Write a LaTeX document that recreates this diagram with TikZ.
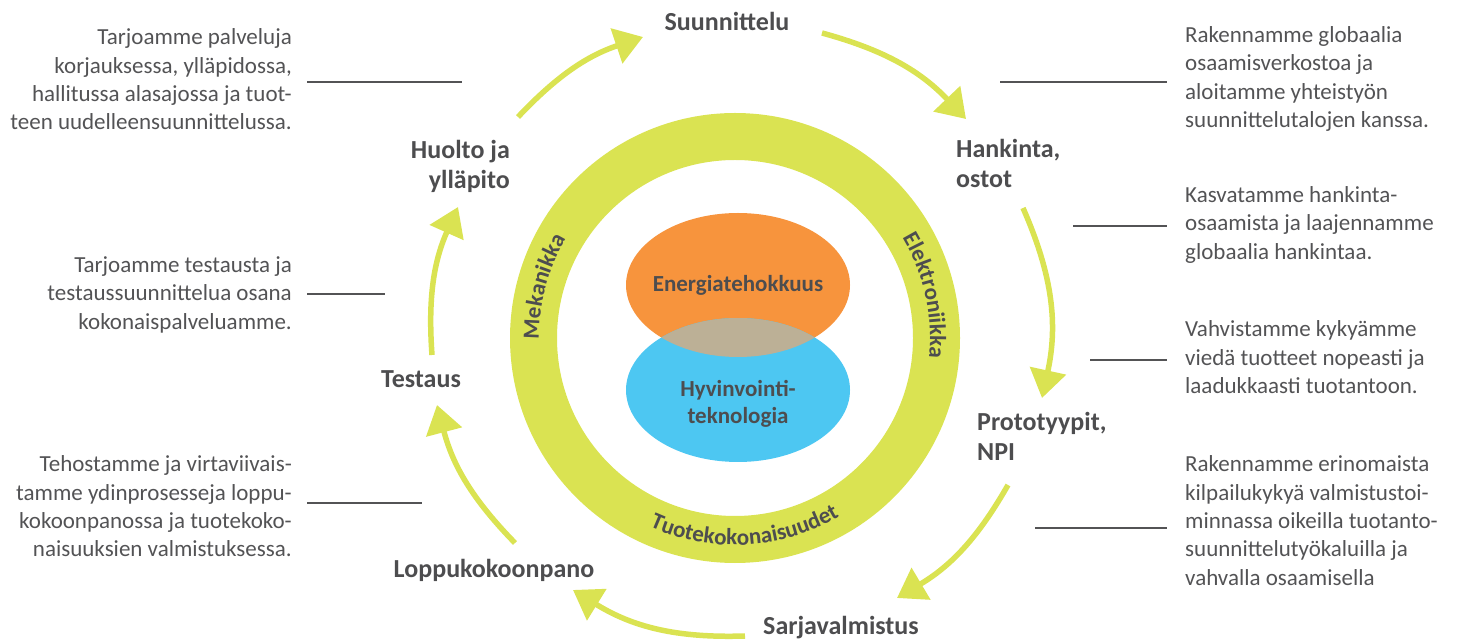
\documentclass[tikz,border=0pt]{standalone}
\usepackage{fontspec}
\setmainfont{Carlito}
\usepackage{tikz}
\usetikzlibrary{shapes.geometric, arrows.meta, decorations.text}
\usepackage{xcolor}
\definecolor{cycleGreen}{RGB}{218, 227, 82}
\definecolor{energyOrange}{RGB}{247, 148, 61}
\definecolor{wellBlue}{RGB}{77, 199, 242}
\definecolor{overlapTan}{RGB}{188, 176, 150}
\definecolor{textGrey}{RGB}{77, 77, 79}
\definecolor{blurbGrey}{RGB}{83, 83, 85}
\newcommand{\ringfont}{\fontsize{23}{23}\selectfont\bfseries\color{textGrey}}

\begin{document}
\begin{tikzpicture}
    [
		x=1pt, y=1pt,
		stage/.style={
			font=\fontsize{26}{29.5}\selectfont\bfseries, text=textGrey, inner sep=0
		},
		core/.style={
			font=\fontsize{23}{27}\selectfont\bfseries, text=textGrey, inner sep=0
		},
		blurb/.style={
			font=\fontsize{23}{28.3}\selectfont, text=blurbGrey, inner sep=0
		},
		leader/.style={draw=blurbGrey, line width=1.8pt},
		flow/.style={
			draw=cycleGreen, line width=5.5pt,
			-{Triangle[length=28pt, width=36pt]}
		},
		blob/.style={
			ellipse, minimum width=224pt, minimum height=144pt, inner sep=0
		},
		ringtext/.style={
			decorate, decoration={text along path, text align=center,
			text={|\ringfont|#1}}
		}
	]

\useasboundingbox (0,0) rectangle (1459,640);

% Ring
\coordinate (hub) at (735,302);
\draw [cycleGreen, line width=47pt] (hub) circle [radius=201.5];

\path [ringtext=Mekanikka]
	([shift={(200:196)}]hub) arc [start angle=200, end angle=130, radius=196];
\path [ringtext=Elektroniikka]
	([shift={(50:195)}]hub) arc [start angle=50, end angle=-25, radius=195];
\path [ringtext=Tuotekokonaisuudet]
	([shift={(-135:207)}]hub) arc [start angle=-135, end angle=-39, radius=207];

% Core
\node (energy) [blob, fill=energyOrange] at (738,355) {};
\node (wellbeing) [blob, fill=wellBlue] at (738,250) {};
\begin{scope}
	\clip (energy.center) ellipse [x radius=112, y radius=72];
	\fill [overlapTan] (wellbeing.center) ellipse [x radius=112, y radius=72];
\end{scope}
\node (energyText) [core, anchor=base] at (738,348) {Energiatehokkuus};
\node (wellText) [core, align=center] at (738,236) {Hyvinvointi-\\teknologia};

% Stages
\node (plan) [stage, anchor=base] at (727,609) {Suunnittelu};
\node (buy) [stage, align=left, anchor=west] at (956,476.5) {Hankinta,\\ostot};
\node (proto) [stage, align=left, anchor=west] at (977,203.5) {Prototyypit,\\NPI};
\node (serial) [stage, anchor=base] at (841,6) {Sarjavalmistus};
\node (assembly) [stage, anchor=base] at (494,63) {Loppukokoonpano};
\node (test) [stage, anchor=base] at (421,252) {Testaus};
\node (service) [stage, align=right, anchor=east] at (510,473.5) {Huolto ja\\ylläpito};

% Cycle arrows
\coordinate (f1s) at (822,607); \coordinate (f1e) at (966,521);
\coordinate (f2s) at (1023,432); \coordinate (f2e) at (1042,242);
\coordinate (f3s) at (1008,155); \coordinate (f3e) at (897,42);
\coordinate (f4s) at (745,4); \coordinate (f4e) at (573,50);
\coordinate (f5s) at (515,97); \coordinate (f5e) at (437,235);
\coordinate (f6s) at (432,285); \coordinate (f6e) at (458,433);
\coordinate (f7s) at (518,523); \coordinate (f7e) at (643,603);

\draw [flow] (f1s) to [bend left=15.6] (f1e);
\draw [flow] (f2s) to [bend left=18] (f2e);
\draw [flow] (f3s) to [bend left=14.8] (f3e);
\draw [flow] (f4s) to [bend left=16.8] (f4e);
\draw [flow] (f5s) to [bend left=14.8] (f5e);
\draw [flow] (f6s) to [bend left=14.1] (f6e);
\draw [flow] (f7s) to [bend left=14] (f7e);

% Left texts
\node (aboutService) [blurb, align=right, anchor=east] at (292,560.5)
	{Tarjoamme palveluja\\korjauksessa, ylläpidossa,\\hallitussa alasajossa ja tuot-\\teen uudelleensuunnittelussa.};
\node (aboutTest) [blurb, align=right, anchor=east] at (292,345.2)
	{Tarjoamme testausta ja\\testaussuunnittelua osana\\kokonaispalveluamme.};
\node (aboutAssembly) [blurb, align=right, anchor=east] at (292,133.5)
	{Tehostamme ja virtaviivais-\\tamme ydinprosesseja loppu-\\kokoonpanossa ja tuotekoko-\\naisuuksien valmistuksessa.};

% Right texts
\node (aboutPlan) [blurb, align=left, anchor=west] at (1185,561)
	{Rakennamme globaalia\\osaamisverkostoa ja\\aloitamme yhteistyön\\suunnittelutalojen kanssa.};
\node (aboutBuy) [blurb, align=left, anchor=west] at (1185,415.2)
	{Kasvatamme hankinta-\\osaamista ja laajennamme\\globaalia hankintaa.};
\node (aboutProto) [blurb, align=left, anchor=west] at (1185,282.7)
	{Vahvistamme kykyämme\\viedä tuotteet nopeasti ja\\laadukkaasti tuotantoon.};
\node (aboutSerial) [blurb, align=left, anchor=west] at (1185,119.4)
	{Rakennamme erinomaista\\kilpailukykyä valmistustoi-\\minnassa oikeilla tuotanto-\\suunnittelutyökaluilla ja\\vahvalla osaamisella};

% Leaders
\coordinate (svcA) at (307,558); \coordinate (svcB) at (462,558);
\coordinate (tstA) at (307,346); \coordinate (tstB) at (385,346);
\coordinate (asmA) at (307,137); \coordinate (asmB) at (422,137);
\coordinate (plnA) at (1000,558); \coordinate (plnB) at (1167,558);
\coordinate (buyA) at (1073,414); \coordinate (buyB) at (1167,414);
\coordinate (prtA) at (1090,280); \coordinate (prtB) at (1167,280);
\coordinate (serA) at (1035,112); \coordinate (serB) at (1167,112);

\draw [leader] (svcA) -- (svcB);
\draw [leader] (tstA) -- (tstB);
\draw [leader] (asmA) -- (asmB);
\draw [leader] (plnA) -- (plnB);
\draw [leader] (buyA) -- (buyB);
\draw [leader] (prtA) -- (prtB);
\draw [leader] (serA) -- (serB);

\end{tikzpicture}
\end{document}
